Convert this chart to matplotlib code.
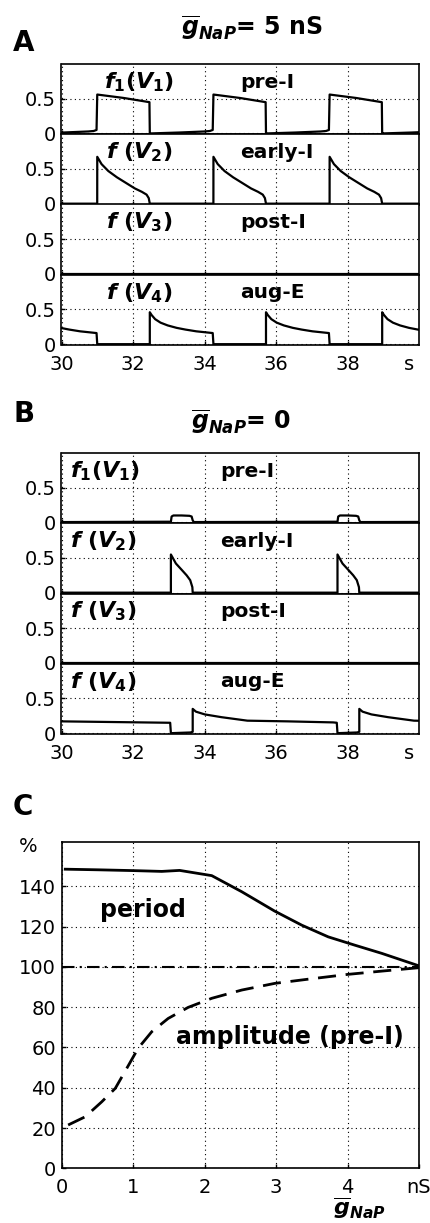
import matplotlib
matplotlib.use('Agg')
import matplotlib.pyplot as plt

plt.rcParams['font.family'] = ['DejaVu Sans']
plt.rcParams['mathtext.fontset'] = 'custom'
plt.rcParams['mathtext.it'] = 'DejaVu Sans:italic:bold'
plt.rcParams['mathtext.rm'] = 'DejaVu Sans:bold'
plt.rcParams['mathtext.bf'] = 'DejaVu Sans:bold'

# ---- panel A: gNaP = 5 nS, burst onsets (s) and one cycle shape per neuron
onsets_A = [27.75, 31.0, 34.25, 37.5]
preI_A_off = [0.0, 0.75, 1.46, 1.47, 1.50, 2.30, 3.00, 3.15, 3.23]
preI_A_val = [0.56, 0.51, 0.45, 0.0, 0.0, 0.013, 0.028, 0.035, 0.05]
earlyI_A_off = [0.0, 0.12, 0.31, 0.55, 0.80, 1.05, 1.25, 1.38, 1.44, 1.47, 3.249]
earlyI_A_val = [0.675, 0.57, 0.47, 0.38, 0.30, 0.22, 0.17, 0.13, 0.08, 0.0, 0.0]
augE_A_off = [0.0, 1.47, 1.47, 1.52, 1.62, 1.77, 1.97, 2.22, 2.47, 2.77, 3.23]
augE_A_val = [0.0, 0.0, 0.46, 0.42, 0.36, 0.31, 0.27, 0.235, 0.21, 0.185, 0.16]

# ---- panel B: gNaP = 0
onsets_B = [33.06, 37.72]
preI_B_lead_t = [30.0, 33.0]
preI_B_lead_v = [0.005, 0.01]
preI_B_off = [0.0, 0.02, 0.07, 0.30, 0.52, 0.58, 0.61, 0.64, 4.60]
preI_B_val = [0.01, 0.085, 0.10, 0.10, 0.095, 0.085, 0.03, 0.005, 0.01]
earlyI_B_lead_t = [30.0]
earlyI_B_lead_v = [0.0]
earlyI_B_off = [0.0, 0.0, 0.14, 0.30, 0.44, 0.54, 0.60, 0.61, 4.60]
earlyI_B_val = [0.0, 0.55, 0.42, 0.33, 0.25, 0.18, 0.08, 0.0, 0.0]
augE_B_lead_t = [30.0, 31.5, 33.0]
augE_B_lead_v = [0.17, 0.16, 0.15]
augE_B_off = [-0.02, 0.0, 0.55, 0.61, 0.61, 0.70, 0.95, 1.42, 2.14, 3.27, 4.54]
augE_B_val = [0.15, 0.0, 0.01, 0.02, 0.35, 0.31, 0.27, 0.23, 0.18, 0.17, 0.155]
postI_t = [30.0, 40.0]
postI_v = [0.0, 0.0]

# ---- panel C: period and pre-I amplitude vs gNaP (% of value at 5 nS)
g_period = [0.05, 0.5, 1.0, 1.4, 1.65, 2.1, 2.52, 2.98, 3.36, 3.73, 4.10, 4.48, 5.0]
period = [148.5, 148.2, 147.8, 147.4, 147.9, 145.3, 137.3, 127.7, 120.7, 114.9, 110.8, 106.7, 100.5]
g_amp = [0.09, 0.33, 0.56, 0.75, 0.91, 1.07, 1.26, 1.49, 1.77, 2.10, 2.52, 2.98, 3.45, 4.01, 4.48, 5.0]
amplitude = [21.5, 25.6, 33.0, 39.7, 49.6, 59.6, 67.8, 74.4, 79.9, 84.4, 88.5, 91.8, 93.9, 96.3, 97.9, 99.6]

f_labels = [r'$\mathit{f_1(V_1)}$', r'$\mathit{f\ (V_2)}$', r'$\mathit{f\ (V_3)}$', r'$\mathit{f\ (V_4)}$']
names = ['pre-I', 'early-I', 'post-I', 'aug-E']


def cycles(onsets, off, val, lead_t=(), lead_v=()):
    t = list(lead_t)
    v = list(lead_v)
    for o in onsets:
        t += [o + d for d in off]
        v += list(val)
    return t, v


traces_A = [cycles(onsets_A, preI_A_off, preI_A_val),
            cycles(onsets_A, earlyI_A_off, earlyI_A_val),
            (postI_t, postI_v),
            cycles(onsets_A, augE_A_off, augE_A_val)]
traces_B = [cycles(onsets_B, preI_B_off, preI_B_val, preI_B_lead_t, preI_B_lead_v),
            cycles(onsets_B, earlyI_B_off, earlyI_B_val, earlyI_B_lead_t, earlyI_B_lead_v),
            (postI_t, postI_v),
            cycles(onsets_B, augE_B_off, augE_B_val, augE_B_lead_t, augE_B_lead_v)]

W, H = 430, 1223
fig = plt.figure(figsize=(W / 100, H / 100), dpi=100)
grid_ls = (0, (1, 3))


def style(ax):
    for s in ax.spines.values():
        s.set_linewidth(1.2)
    ax.grid(True, ls=grid_ls, color='k', lw=0.8)
    ax.tick_params(direction='in', length=3, labelsize=14, pad=4, width=1)
    ax.tick_params(axis='x', pad=7)


def trace_panel(top, traces, fx, fha, nx):
    h = 70.25
    for i, (t, v) in enumerate(traces):
        ax = fig.add_axes([61.5 / W, 1 - (top + (i + 1) * h) / H, 357.5 / W, h / H])
        ax.plot(t, v, color='k', lw=1.6)
        ax.set_xlim(30, 40)
        ax.set_ylim(-0.012, 1.0)
        ax.set_yticks([0, 0.5])
        ax.set_yticklabels(['0', '0.5'])
        ax.set_xticks([30, 32, 34, 36, 38])
        style(ax)
        ax.text(fx, 0.74, f_labels[i], ha=fha, va='center', fontsize=16)
        ax.text(nx, 0.74, names[i], ha='left', va='center', fontsize=14.5, fontweight='bold')
        if i < 3:
            ax.tick_params(labelbottom=False)
        else:
            ax.set_xticklabels(['30', '32', '34', '36', '38'])
            ax.annotate('s', xy=(39.72, 0), xycoords=('data', 'axes fraction'),
                        xytext=(0, -10), textcoords='offset pixels', ha='center', va='top', fontsize=14)


trace_panel(64, traces_A, 32.18, 'center', 35.0)
trace_panel(453, traces_B, 30.25, 'left', 34.44)

# panel C
axC = fig.add_axes([61.7 / W, 1 - 1168.3 / H, 357.3 / W, 326.3 / H])
axC.plot(g_period, period, color='k', lw=2)
axC.plot(g_amp, amplitude, color='k', lw=2, ls=(0, (6.5, 3.5)))
axC.axhline(100, color='k', lw=1.5, ls=(0, (6, 2.5, 1, 2.5)))
axC.set_xlim(0, 5)
axC.set_ylim(0, 162)
axC.set_yticks([0, 20, 40, 60, 80, 100, 120, 140])
axC.set_xticks([0, 1, 2, 3, 4, 5])
axC.set_xticklabels(['0', '1', '2', '3', '4', 'nS'])
style(axC)
axC.text(1.14, 128, 'period', ha='center', va='center', fontsize=17, fontweight='bold')
axC.text(3.19, 65, 'amplitude (pre-I)', ha='center', va='center', fontsize=17, fontweight='bold')
axC.annotate('%', xy=(0, 160), xycoords='data', xytext=(-34, 0), textcoords='offset pixels',
             ha='center', va='center', fontsize=14)

# titles and panel letters
fig.text(359 / W, 1 - 1208 / H, r'$\mathit{\overline{g}_{NaP}}$', ha='center', va='center', fontsize=16)
fig.text(252 / W, 1 - 28 / H, r'$\mathit{\overline{g}_{NaP}}$= 5 nS', ha='center', va='center',
         fontsize=17, fontweight='bold')
fig.text(241 / W, 1 - 422 / H, r'$\mathit{\overline{g}_{NaP}}$= 0', ha='center', va='center',
         fontsize=17, fontweight='bold')
for letter, yc in [('A', 43), ('B', 414), ('C', 807)]:
    fig.text(13 / W, 1 - yc / H, letter, ha='left', va='center', fontsize=20, fontweight='bold')

fig.savefig('out.png', dpi=100)
